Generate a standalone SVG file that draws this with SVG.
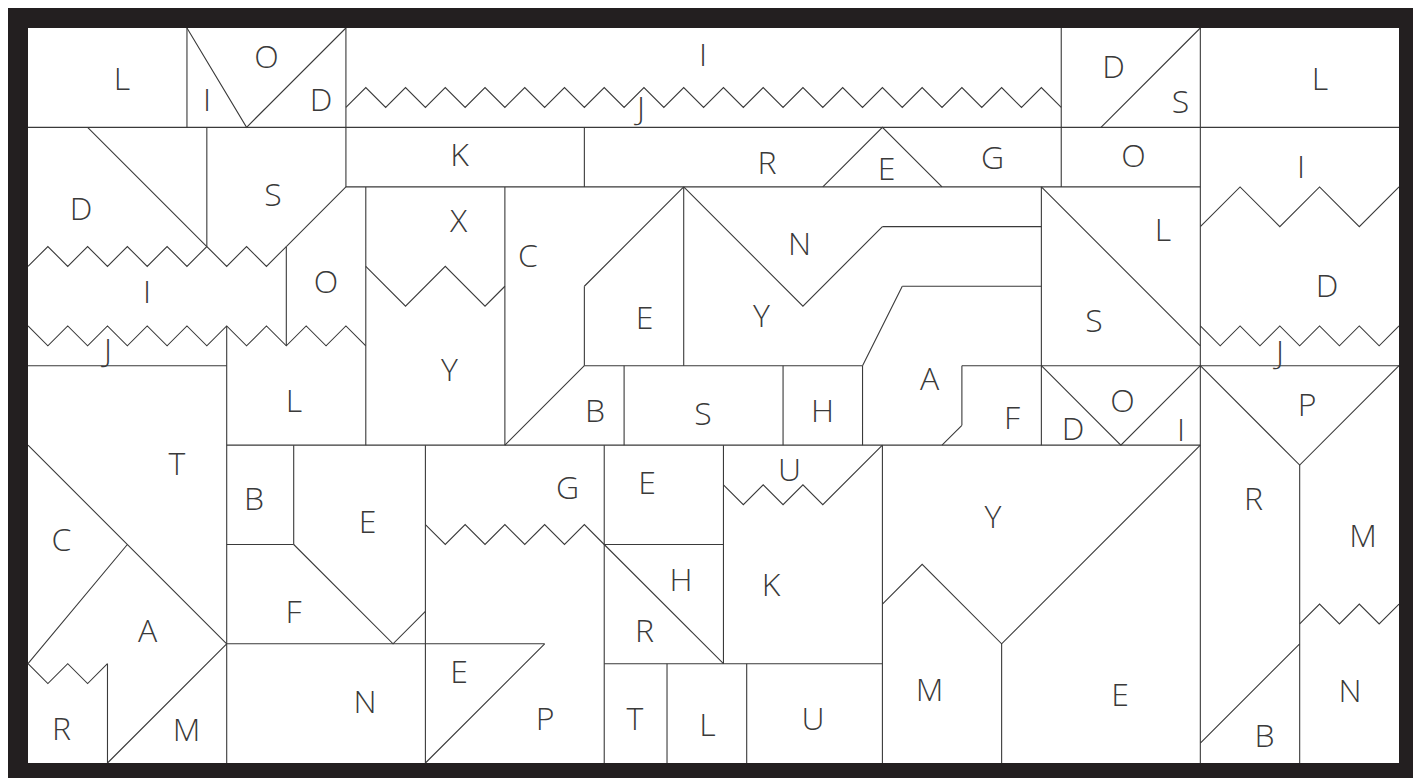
<svg xmlns="http://www.w3.org/2000/svg" width="1413" height="778" viewBox="0 0 1413 778">
<style>
.ln{fill:none;stroke:#3a3a3a;stroke-width:1.1;vector-effect:non-scaling-stroke;stroke-linejoin:miter}
.lb{font-family:"Open Sans","Liberation Sans",sans-serif;font-weight:300;font-size:32px;fill:#3a3a3a;text-anchor:middle}
</style>
<rect x="0" y="0" width="1413" height="778" fill="#ffffff"/>
<path id="frame" d="M8 8H1413V778H8Z M28 28V763H1399V28Z" fill="#231f20" fill-rule="evenodd"/>
<g id="lines" transform="matrix(19.87 0 0 19.865 28 28)">
<path class="ln" d="M0 5H69 M16 8H59 M0 17H10 M28 17H42 M47 17H69 M10 21H59 M44 13H51 M43 10H51 M10 26H13.372 M29 26H35 M10 31H26 M29 32H43"/>
<path class="ln" d="M8 0V5 M16 0V8 M52 0V8 M59 0V37 M9 5V11 M28 5V8 M28 13V17 M13 11V16 M10 15V37 M17 8V21 M24 8V21 M33 8V17 M30 17V21 M38 17V21 M42 17V21 M51 8V21 M47 17V20 M13.372 21V26 M20 21V37 M29 21V37 M35 21V32 M43 21V37 M32.16 32V37 M36.17 32V37 M49 31V37 M64 22V37 M4 32V37"/>
<path class="ln" d="M8 0L11 5L16 0 M59 0L54 5 M40 8L43 5L46 8 M3 5L9 11 M16 8L13 11 M33 8L28 13 M28 17L24 21 M33 8L39 14L43 10 M42 17L44 13 M47 20L46 21 M51 8L59 16 M51 17L55 21L59 17 M59 17L64 22L69 17 M0 21L10 31 M5 26L0 32 M10 31L4 37 M13.372 26L18.372 31L20 29.372 M26 31L20 37 M29 26L35 32 M43 29L45 27L49 31L59 21 M64 31L59 36"/>
<path class="ln" d="M16 4L17 3L18 4L19 3L20 4L21 3L22 4L23 3L24 4L25 3L26 4L27 3L28 4L29 3L30 4L31 3L32 4L33 3L34 4L35 3L36 4L37 3L38 4L39 3L40 4L41 3L42 4L43 3L44 4L45 3L46 4L47 3L48 4L49 3L50 4L51 3L52 4"/>
<path class="ln" d="M0 12L1 11L2 12L3 11L4 12L5 11L6 12L7 11L8 12L9 11L10 12L11 11L12 12L13 11"/>
<path class="ln" d="M0 15L1 16L2 15L3 16L4 15L5 16L6 15L7 16L8 15L9 16L10 15L11 16L12 15L13 16L14 15L15 16L16 15L17 16"/>
<path class="ln" d="M17 12L19 14L21 12L23 14L24 13"/>
<path class="ln" d="M59 10L61 8L63 10L65 8L67 10L69 8"/>
<path class="ln" d="M59 15L60 16L61 15L62 16L63 15L64 16L65 15L66 16L67 15L68 16L69 15"/>
<path class="ln" d="M0 32L1 33L2 32L3 33L4 32"/>
<path class="ln" d="M20 25L21 26L22 25L23 26L24 25L25 26L26 25L27 26L28 25L29 26"/>
<path class="ln" d="M35 23L36 24L37 23L38 24L39 23L40 24L43 21"/>
<path class="ln" d="M64 30L65 29L66 30L67 29L68 30L69 29"/>
</g>
<g id="labels">
<text class="lb" x="122" y="90">L</text>
<text class="lb" x="266.5" y="68">O</text>
<text class="lb" x="207" y="111">I</text>
<text class="lb" x="321" y="111">D</text>
<text class="lb" x="703" y="66">I</text>
<text class="lb" x="641" y="119">J</text>
<text class="lb" x="1113.5" y="78">D</text>
<text class="lb" x="1180.5" y="113">S</text>
<text class="lb" x="1320" y="90">L</text>
<text class="lb" x="81" y="220">D</text>
<text class="lb" x="273" y="206">S</text>
<text class="lb" x="459.5" y="166">K</text>
<text class="lb" x="767" y="174">R</text>
<text class="lb" x="886.5" y="180">E</text>
<text class="lb" x="992.5" y="169">G</text>
<text class="lb" x="1133.5" y="167">O</text>
<text class="lb" x="1301" y="178">I</text>
<text class="lb" x="458.5" y="232">X</text>
<text class="lb" x="528" y="267">C</text>
<text class="lb" x="799.5" y="255">N</text>
<text class="lb" x="1163" y="241">L</text>
<text class="lb" x="147" y="303">I</text>
<text class="lb" x="326" y="293">O</text>
<text class="lb" x="108" y="361">J</text>
<text class="lb" x="1327" y="297">D</text>
<text class="lb" x="1094" y="332">S</text>
<text class="lb" x="449.5" y="381">Y</text>
<text class="lb" x="644.5" y="329">E</text>
<text class="lb" x="761.5" y="327">Y</text>
<text class="lb" x="1280" y="363">J</text>
<text class="lb" x="294" y="412">L</text>
<text class="lb" x="929.5" y="390">A</text>
<text class="lb" x="1122.5" y="412">O</text>
<text class="lb" x="1307" y="416">P</text>
<text class="lb" x="595" y="422">B</text>
<text class="lb" x="703" y="425">S</text>
<text class="lb" x="822.5" y="422">H</text>
<text class="lb" x="1012" y="429">F</text>
<text class="lb" x="1073" y="440">D</text>
<text class="lb" x="1181" y="441">I</text>
<text class="lb" x="177" y="475">T</text>
<text class="lb" x="254" y="510">B</text>
<text class="lb" x="367.5" y="533">E</text>
<text class="lb" x="567.5" y="499">G</text>
<text class="lb" x="647" y="494">E</text>
<text class="lb" x="789.5" y="481">U</text>
<text class="lb" x="993" y="528">Y</text>
<text class="lb" x="1253.5" y="510">R</text>
<text class="lb" x="61.5" y="551">C</text>
<text class="lb" x="1363" y="547">M</text>
<text class="lb" x="681" y="591">H</text>
<text class="lb" x="771" y="596">K</text>
<text class="lb" x="293.5" y="623">F</text>
<text class="lb" x="147.5" y="642">A</text>
<text class="lb" x="644.5" y="642">R</text>
<text class="lb" x="459" y="683">E</text>
<text class="lb" x="929.5" y="701">M</text>
<text class="lb" x="1350" y="702">N</text>
<text class="lb" x="1120" y="706">E</text>
<text class="lb" x="365" y="713">N</text>
<text class="lb" x="545" y="730">P</text>
<text class="lb" x="635" y="730">T</text>
<text class="lb" x="813" y="730">U</text>
<text class="lb" x="707.5" y="736">L</text>
<text class="lb" x="61.5" y="740">R</text>
<text class="lb" x="186.5" y="741">M</text>
<text class="lb" x="1264.5" y="747">B</text>
</g>
</svg>
